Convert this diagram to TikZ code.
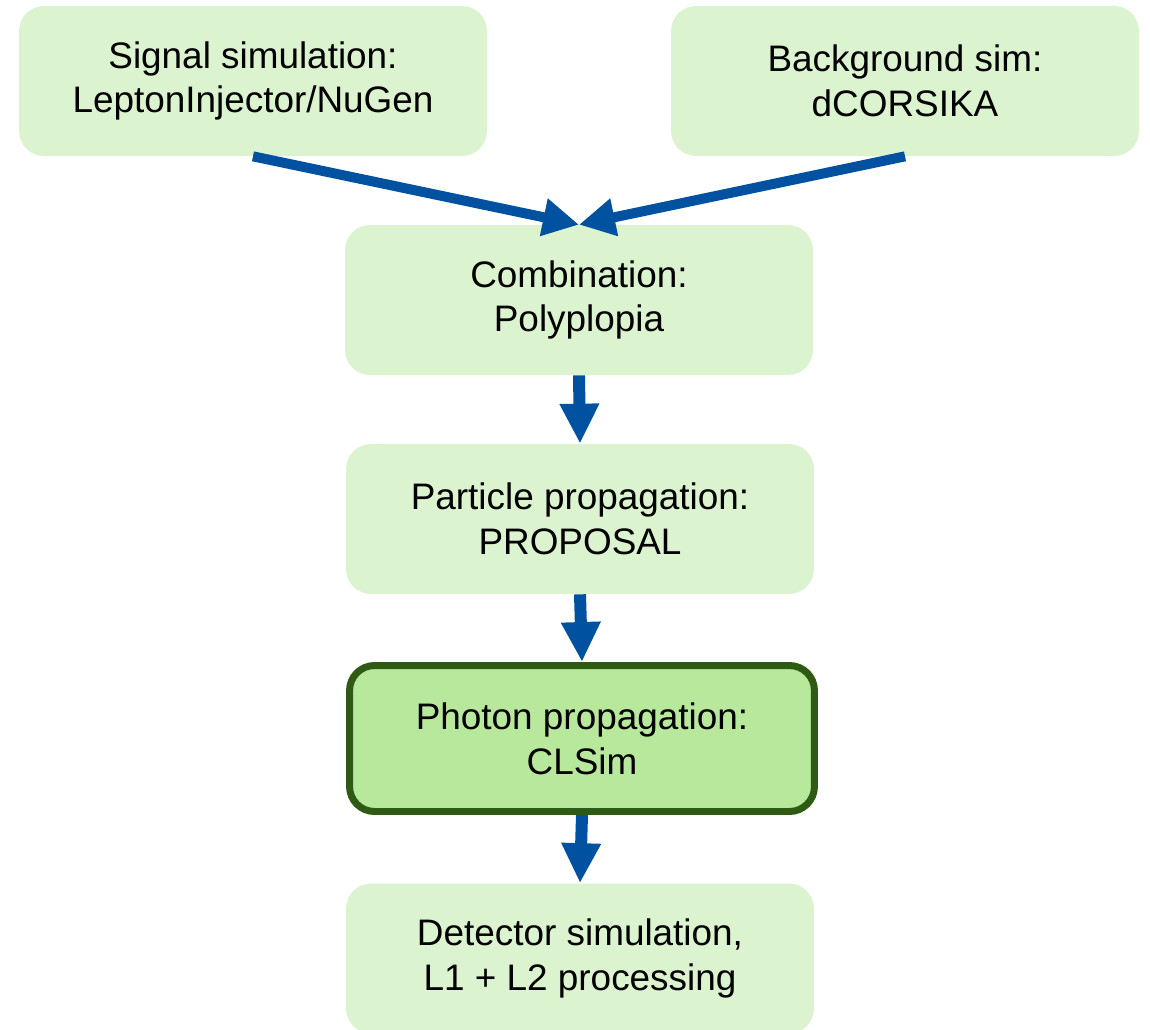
\documentclass[tikz,border=0pt]{standalone}
\usepackage{fontspec}
\setmainfont{Liberation Sans}
\usetikzlibrary{arrows.meta}
\definecolor{boxfill}{HTML}{DCF3CF}
\definecolor{hifill}{HTML}{B8E89C}
\definecolor{hiborder}{HTML}{2E5A14}
\definecolor{arrowblue}{HTML}{0052A0}
\begin{document}
\begin{tikzpicture}[x=0.02cm,y=-0.02cm,
  stagebox/.style={rectangle, rounded corners=0.5cm, fill=boxfill, draw=none,
    minimum width=9.36cm, minimum height=3cm, align=center, inner sep=0pt,
    font=\fontsize{21}{25.5}\selectfont},
  hibox/.style={stagebox, fill=hifill, draw=hiborder, line width=0.14cm,
    minimum width=9.3cm, minimum height=2.92cm},
  flow/.style={draw=arrowblue, line width=0.2cm,
    -{Triangle[length=0.72cm,width=0.72cm]}},
  vflow/.style={draw=arrowblue, line width=0.24cm,
    -{Triangle[length=0.8cm,width=0.74cm]}}]
\clip (0,0) rectangle (1150,1029);
\fill[white] (0,0) rectangle (1150,1029);
\node[stagebox] (sig) at (253,81) {Signal simulation:\\LeptonInjector/NuGen};
\node[stagebox] (bg) at (905,81) {Background sim:\\dCORSIKA};
\node[stagebox] (comb) at (579,300) {Combination:\\Polyplopia};
\node[stagebox] (part) at (580,519) {Particle propagation:\\PROPOSAL};
\node[hibox] (phot) at (582,738.5) {Photon propagation:\\CLSim};
\node[stagebox] (det) at (580,958.5) {Detector simulation,\\L1 + L2 processing};
\draw[flow] (sig.south) -- (comb.north);
\draw[flow] (bg.south) -- (comb.north);
\draw[vflow] (comb.south) -- (part.north);
\draw[vflow] (part.south) -- (phot.north);
\draw[vflow] (phot.south) -- (det.north);
\end{tikzpicture}
\end{document}
